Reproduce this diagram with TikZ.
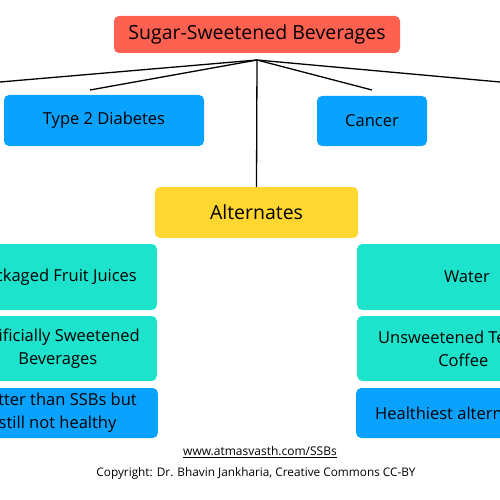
\documentclass[tikz,border=0pt]{standalone}
\usepackage{fontspec}
\setmainfont{Open Sans}
\definecolor{ssbred}{HTML}{FF6150}
\definecolor{ssbblue}{HTML}{0AA2FF}
\definecolor{ssbteal}{HTML}{1DE2CC}
\definecolor{ssbyellow}{HTML}{FFD730}
\begin{document}
\begin{tikzpicture}[x=1pt,y=-1pt,
  box/.style={rounded corners=5pt, inner sep=0pt, draw=none},
  txt/.style={inner sep=0pt, align=center, font=\fontsize{16.5}{23}\selectfont},
  bigtxt/.style={txt, font=\fontsize{19.5}{22}\selectfont},
  conn/.style={line width=1.3pt, black}]
\useasboundingbox (0,0) rectangle (500,500);
\clip (0,0) rectangle (500,500);
\fill[white] (0,0) rectangle (500,500);
% top
\node[box, fill=ssbred, minimum width=286pt, minimum height=37pt] (ssb) at (257,34.5) {};
\node[bigtxt] (ssbt) at (257,34.5) {Sugar-Sweetened Beverages};
\node[box, fill=ssbblue, minimum width=200pt, minimum height=51pt] (t2d) at (104,120.5) {};
\node[txt] (t2dt) at (104,120.5) {Type 2 Diabetes};
\node[box, fill=ssbblue, minimum width=110pt, minimum height=50pt] (can) at (372,121) {};
\node[txt] (cant) at (372,121) {Cancer};
\node[box, fill=ssbyellow, minimum width=203pt, minimum height=51pt] (alt) at (256.5,212.5) {};
\node[bigtxt] (altt) at (256.5,212.5) {Alternates};
% connectors
\coordinate (hub) at (257,60);
\coordinate (farl) at (0,82);
\coordinate (farr) at (500,82);
\coordinate (nearl) at (90,90);
\coordinate (nearr) at (372,90);
\draw[conn] (hub) -- (farl);
\draw[conn] (hub) -- (farr);
\draw[conn] (hub) -- (nearl);
\draw[conn] (hub) -- (nearr);
\draw[conn] (hub) -- (alt.north);
% left column
\node[box, fill=ssbteal, minimum width=220pt, minimum height=66pt, anchor=east] (pfj) at (157,277) {};
\node[txt, anchor=east] (pfjt) at (137,277) {Packaged Fruit Juices};
\node[box, fill=ssbteal, minimum width=220pt, minimum height=65pt, anchor=east] (asb) at (157,348.5) {};
\node[txt, anchor=east] (asbt) at (140,348.5) {Artificially Sweetened\\Beverages};
\node[box, fill=ssbblue, minimum width=220pt, minimum height=50pt, anchor=east] (btr) at (158,413) {};
\node[txt, anchor=east] (btrt) at (137,413) {Better than SSBs but\\still not healthy};
% right column
\node[box, fill=ssbteal, minimum width=220pt, minimum height=66pt, anchor=west] (wat) at (357,277) {};
\node[txt] (watt) at (467,277) {Water};
\node[box, fill=ssbteal, minimum width=220pt, minimum height=65pt, anchor=west] (utc) at (357,348.5) {};
\node[txt, anchor=west] (utct) at (378,348.5) {Unsweetened Tea and\\Coffee};
\node[box, fill=ssbblue, minimum width=220pt, minimum height=50pt, anchor=west] (hlt) at (356,413) {};
\node[txt, anchor=west] (hltt) at (375,413) {Healthiest alternatives};
% footer
\node[inner sep=0pt, font=\fontsize{12}{14}\selectfont] (web) at (260,452) {\underline{www.atmasvasth.com/SSBs}};
\node[inner sep=0pt, font=\fontsize{11.8}{14}\selectfont] (copy) at (256,473) {Copyright: Dr. Bhavin Jankharia, Creative Commons CC-BY};
\end{tikzpicture}
\end{document}
